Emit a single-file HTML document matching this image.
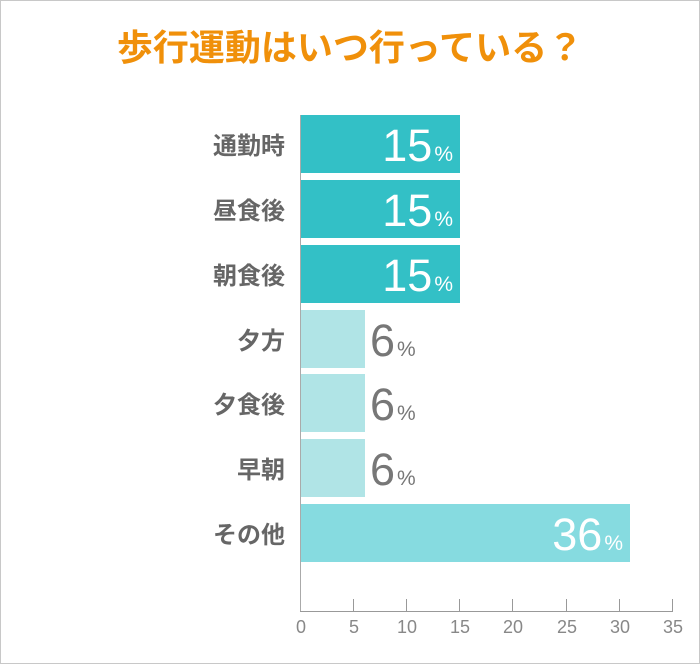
<!DOCTYPE html>
<html><head><meta charset="utf-8"><style>
body{margin:0;background:#fff;}
#c{position:relative;width:698px;height:662px;border:1px solid #c8c8c8;font-family:"Liberation Sans","Noto Sans CJK JP",sans-serif;overflow:hidden}
.t{position:absolute;top:18px;left:0;width:698px;text-align:center;color:#f0900a;font-weight:bold;font-size:36px;line-height:52px;font-family:"Noto Sans CJK JP",sans-serif}
.lab{position:absolute;right:414px;color:#666;font-weight:bold;font-size:24px;font-family:"Noto Sans CJK JP",sans-serif;line-height:58px}
.bar{position:absolute;left:300px;height:58px}
.v{position:absolute;font-size:45px;line-height:62px;white-space:nowrap}
.v small{font-size:21px;margin-left:2px}
.tk{position:absolute;top:598px;width:1px;height:13px;background:#999}
.tl{position:absolute;top:616px;width:30px;margin-left:-15px;text-align:center;color:#888;font-size:18px}
</style></head><body><div id="c">
<div class="t">歩行運動はいつ行っている？</div>
<div style="position:absolute;left:299px;top:114px;width:1px;height:497px;background:#aaa"></div>
<div style="position:absolute;left:299px;top:610px;width:373px;height:1px;background:#999"></div>

<div class="lab" style="top:114px">通勤時</div>
<div class="bar" style="top:114px;width:159px;background:#33c0c6"></div>
<div class="v" style="top:114px;right:246px;color:#fff">15<small>%</small></div>

<div class="lab" style="top:179px">昼食後</div>
<div class="bar" style="top:179px;width:159px;background:#33c0c6"></div>
<div class="v" style="top:179px;right:246px;color:#fff">15<small>%</small></div>

<div class="lab" style="top:244px">朝食後</div>
<div class="bar" style="top:244px;width:159px;background:#33c0c6"></div>
<div class="v" style="top:244px;right:246px;color:#fff">15<small>%</small></div>

<div class="lab" style="top:309px">夕方</div>
<div class="bar" style="top:309px;width:64px;background:#b0e4e6"></div>
<div class="v" style="top:309px;left:369px;color:#777">6<small>%</small></div>

<div class="lab" style="top:373px">夕食後</div>
<div class="bar" style="top:373px;width:64px;background:#b0e4e6"></div>
<div class="v" style="top:373px;left:369px;color:#777">6<small>%</small></div>

<div class="lab" style="top:438px">早朝</div>
<div class="bar" style="top:438px;width:64px;background:#b0e4e6"></div>
<div class="v" style="top:438px;left:369px;color:#777">6<small>%</small></div>

<div class="lab" style="top:503px">その他</div>
<div class="bar" style="top:503px;width:329px;background:#86dbe0"></div>
<div class="v" style="top:503px;right:76px;color:#fff">36<small>%</small></div>

<div class="tk" style="left:352px"></div><div class="tk" style="left:405px"></div><div class="tk" style="left:458px"></div><div class="tk" style="left:511px"></div><div class="tk" style="left:565px"></div><div class="tk" style="left:618px"></div><div class="tk" style="left:671px"></div>
<div class="tl" style="left:300px">0</div><div class="tl" style="left:353px">5</div><div class="tl" style="left:406px">10</div><div class="tl" style="left:459px">15</div><div class="tl" style="left:512px">20</div><div class="tl" style="left:566px">25</div><div class="tl" style="left:619px">30</div><div class="tl" style="left:672px">35</div>
</div></body></html>
